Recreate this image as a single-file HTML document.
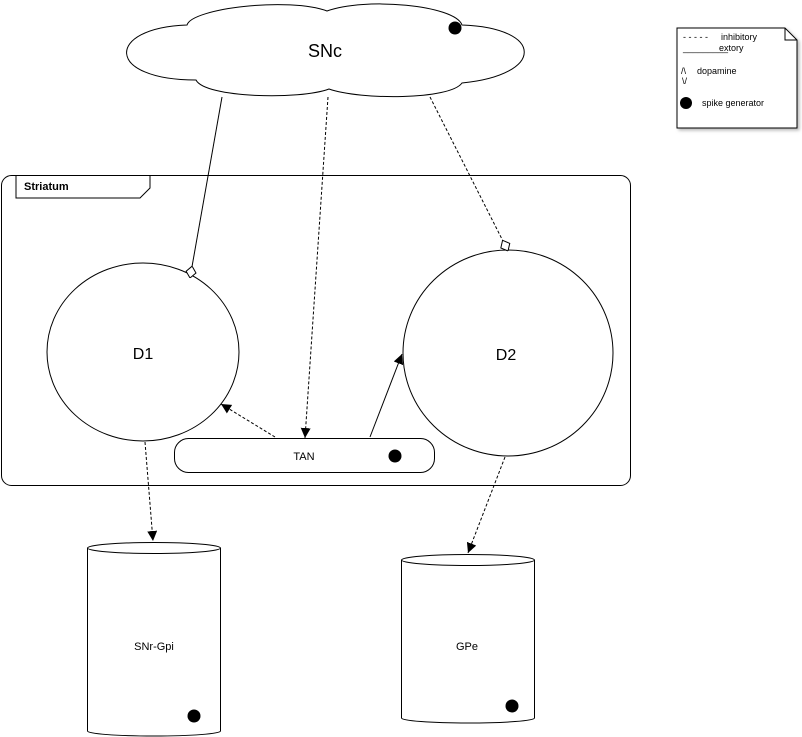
<!DOCTYPE html>
<html><head><meta charset="utf-8"><style>
html,body{margin:0;padding:0;background:#fff;}
svg{display:block;font-family:"Liberation Sans",Arial,sans-serif;}
</style></head><body>
<svg width="802" height="737" viewBox="0 0 802 737">
<defs>
<marker id="arr" viewBox="0 0 10 10" refX="10" refY="5" markerWidth="10" markerHeight="10" markerUnits="userSpaceOnUse" orient="auto"><path d="M0,0 L10,5 L0,10 Z" fill="#000"/></marker>
<marker id="dia" viewBox="0 0 12 12" refX="12" refY="6" markerWidth="12" markerHeight="12" markerUnits="userSpaceOnUse" orient="auto"><path d="M0,6 L6,1 L12,6 L6,11 Z" fill="#fff" stroke="#000" stroke-width="1"/></marker>
<filter id="sh" x="-10%" y="-10%" width="130%" height="130%"><feDropShadow dx="2" dy="2" stdDeviation="1.5" flood-color="#888" flood-opacity="0.6"/></filter>
</defs>

<g>
<path d="M677,28 L785,28 L797,40 L797,128 L677,128 Z" fill="#fff" stroke="#000" filter="url(#sh)"/>
<path d="M785,28 L785,40 L797,40" fill="none" stroke="#000"/>
<text x="683" y="40" font-size="9">- - - - -</text>
<text x="721" y="40" font-size="9">inhibitory</text>
<text x="683" y="51" font-size="9">_________</text>
<text x="719" y="51" font-size="9">extory</text>
<text x="681" y="74" font-size="9">/\</text>
<text x="697" y="74" font-size="9">dopamine</text>
<text x="682" y="84" font-size="9">\/</text>
<circle cx="686" cy="103" r="6" fill="#000"/>
<text x="702" y="106" font-size="9">spike generator</text>
</g>

<g>
<path d="M187,25 C192,8 290,-3 327,11 C365,-3 455,5 462,25 C545,28 545,75 462,83 C450,100 360,100 329,89 C300,100 205,98 196,80 C105,80 105,28 187,25 Z" fill="#fff" stroke="#000"/>
<text x="325" y="57" font-size="18" text-anchor="middle">SNc</text>
<circle cx="455" cy="28" r="6.5" fill="#000"/>
</g>

<g>
<rect x="1.5" y="175.5" width="629" height="310" rx="10" fill="none" stroke="#000"/>
<path d="M16,175.5 L150,175.5 L150,188 L140,198 L16,198 Z" fill="#fff" stroke="#000"/>
<text x="24" y="190" font-size="11" font-weight="bold">Striatum</text>
</g>

<g>
<ellipse cx="143" cy="352" rx="96" ry="89" fill="#fff" stroke="#000"/>
<text x="143" y="359" font-size="16" text-anchor="middle">D1</text>
</g>
<g>
<ellipse cx="508" cy="353" rx="105" ry="103" fill="#fff" stroke="#000"/>
<text x="506" y="360" font-size="16" text-anchor="middle">D2</text>
</g>
<g>
<rect x="174.5" y="438.5" width="260" height="34" rx="14" fill="#fff" stroke="#000"/>
<text x="304" y="460" font-size="11" text-anchor="middle">TAN</text>
<circle cx="395" cy="456" r="6.5" fill="#000"/>
</g>

<g>
<path d="M87.5,548 L87.5,731 A66,5 0 0 0 220.5,731 L220.5,548" fill="#fff" stroke="#000"/>
<ellipse cx="154" cy="548" rx="66.5" ry="5.5" fill="#fff" stroke="#000"/>
<text x="154" y="650" font-size="11" text-anchor="middle">SNr-Gpi</text>
<circle cx="194" cy="716" r="6.5" fill="#000"/>
</g>
<g>
<path d="M401.5,560 L401.5,718 A66,5 0 0 0 534.5,718 L534.5,560" fill="#fff" stroke="#000"/>
<ellipse cx="468" cy="560" rx="66.5" ry="5.5" fill="#fff" stroke="#000"/>
<text x="467" y="650" font-size="11" text-anchor="middle">GPe</text>
<circle cx="512" cy="706" r="6.5" fill="#000"/>
</g>

<g fill="none" stroke="#000">
<line x1="222" y1="97" x2="190" y2="278" marker-end="url(#dia)"/>
<line x1="328" y1="97" x2="305" y2="438" stroke-dasharray="3,2" marker-end="url(#arr)"/>
<line x1="430" y1="97" x2="508" y2="251" stroke-dasharray="3,2" marker-end="url(#dia)"/>
<line x1="275" y1="437" x2="221" y2="404" stroke-dasharray="3,2" marker-end="url(#arr)"/>
<line x1="370" y1="437" x2="402" y2="354" marker-end="url(#arr)"/>
<line x1="145" y1="442" x2="153" y2="541" stroke-dasharray="3,2" marker-end="url(#arr)"/>
<line x1="505" y1="457" x2="468" y2="553" stroke-dasharray="3,2" marker-end="url(#arr)"/>
</g>
</svg>
</body></html>
